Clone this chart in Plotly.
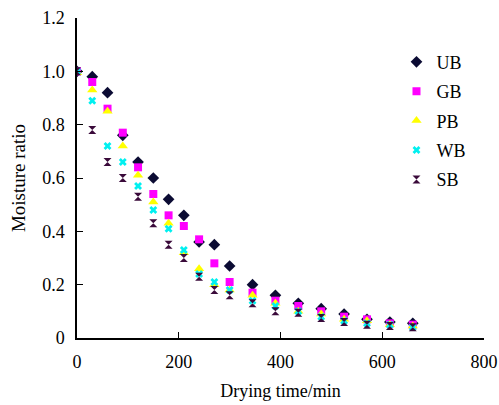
import plotly.graph_objects as go

# Drying time (min) and moisture ratio
time_min = [0, 30, 60, 90, 120, 150, 180, 210, 240, 270, 300, 345, 390, 435, 480, 525, 570, 615, 660]
ub = [1.0, 0.98, 0.92, 0.76, 0.66, 0.60, 0.52, 0.46, 0.36, 0.35, 0.27, 0.20, 0.16, 0.13, 0.11, 0.09, 0.07, 0.06, 0.055]
gb = [1.0, 0.96, 0.86, 0.77, 0.64, 0.54, 0.46, 0.42, 0.37, 0.28, 0.21, 0.17, 0.14, 0.12, 0.10, 0.08, 0.07, 0.055, 0.05]
pb = [0.995, 0.93, 0.85, 0.72, 0.61, 0.51, 0.43, 0.32, 0.26, 0.20, 0.18, 0.16, 0.13, 0.10, 0.09, 0.07, 0.065, 0.05, 0.045]
wb = [1.0, 0.89, 0.72, 0.66, 0.57, 0.48, 0.41, 0.33, 0.24, 0.21, 0.18, 0.14, 0.12, 0.10, 0.08, 0.065, 0.055, 0.05, 0.04]
sb = [1.0, 0.78, 0.66, 0.60, 0.53, 0.43, 0.35, 0.30, 0.23, 0.18, 0.16, 0.13, 0.10, 0.095, 0.075, 0.06, 0.05, 0.045, 0.04]

names = ['UB', 'GB', 'PB', 'WB', 'SB']
series = [ub, gb, pb, wb, sb]
symbols = ['diamond', 'square', 'triangle-up', 'x', 'hourglass']
colors = ['#0b0b33', '#ff00ff', '#ffff00', '#00f0f0', '#3a0a3a']
sizes = [9, 8, 9, 7, 8]

serif = 'Liberation Serif'

fig = go.Figure()
for name, vals, sym, col, sz in zip(names, series, symbols, colors, sizes):
    fig.add_trace(go.Scatter(x=time_min, y=vals, mode='markers', name=name,
                             legendgroup=name,
                             marker=dict(symbol=sym, color=col, size=sz, line=dict(width=0))))

fig.update_layout(
    autosize=True,
    margin=dict(l=77, r=15, t=18, b=67),
    plot_bgcolor='white',
    paper_bgcolor='white',
    font=dict(family=serif, size=17, color='black'),
    legend=dict(x=0.785, y=0.92, xanchor='left', yanchor='top',
                font=dict(family=serif, size=18), tracegroupgap=3,
                bgcolor='rgba(0,0,0,0)'),
)

fig.update_xaxes(title_text='Drying time/min', range=[0, 800], tickvals=[0, 200, 400, 600, 800],
                 showline=True, linecolor='black', linewidth=1.5, showgrid=False, zeroline=False,
                 ticks='inside', ticklen=6, tickcolor='black', tickfont=dict(family=serif, size=18),
                 ticklabelstandoff=7, automargin=False,
                 title_font=dict(family=serif, size=18), title_standoff=13)
fig.update_yaxes(title_text='Moisture ratio', range=[0, 1.2],
                 tickvals=[0, 0.2, 0.4, 0.6, 0.8, 1.0, 1.2],
                 ticktext=['0', '0.2', '0.4', '0.6', '0.8', '1.0', '1.2'],
                 showline=True, linecolor='black', linewidth=1.5, showgrid=False, zeroline=False,
                 ticks='inside', ticklen=6, tickcolor='black', tickfont=dict(family=serif, size=18),
                 ticklabelstandoff=7, automargin=False,
                 title_font=dict(family=serif, size=19), title_standoff=12)

# fill the window exactly, no body margin, no scrollbars, no modebar
fig.write_html('out.html', config={'displayModeBar': False},
               default_width='100vw', default_height='100vh',
               post_script="document.body.style.margin='0';"
                           "document.body.style.overflow='hidden';"
                           "Plotly.Plots.resize(document.getElementById('{plot_id}'));")
